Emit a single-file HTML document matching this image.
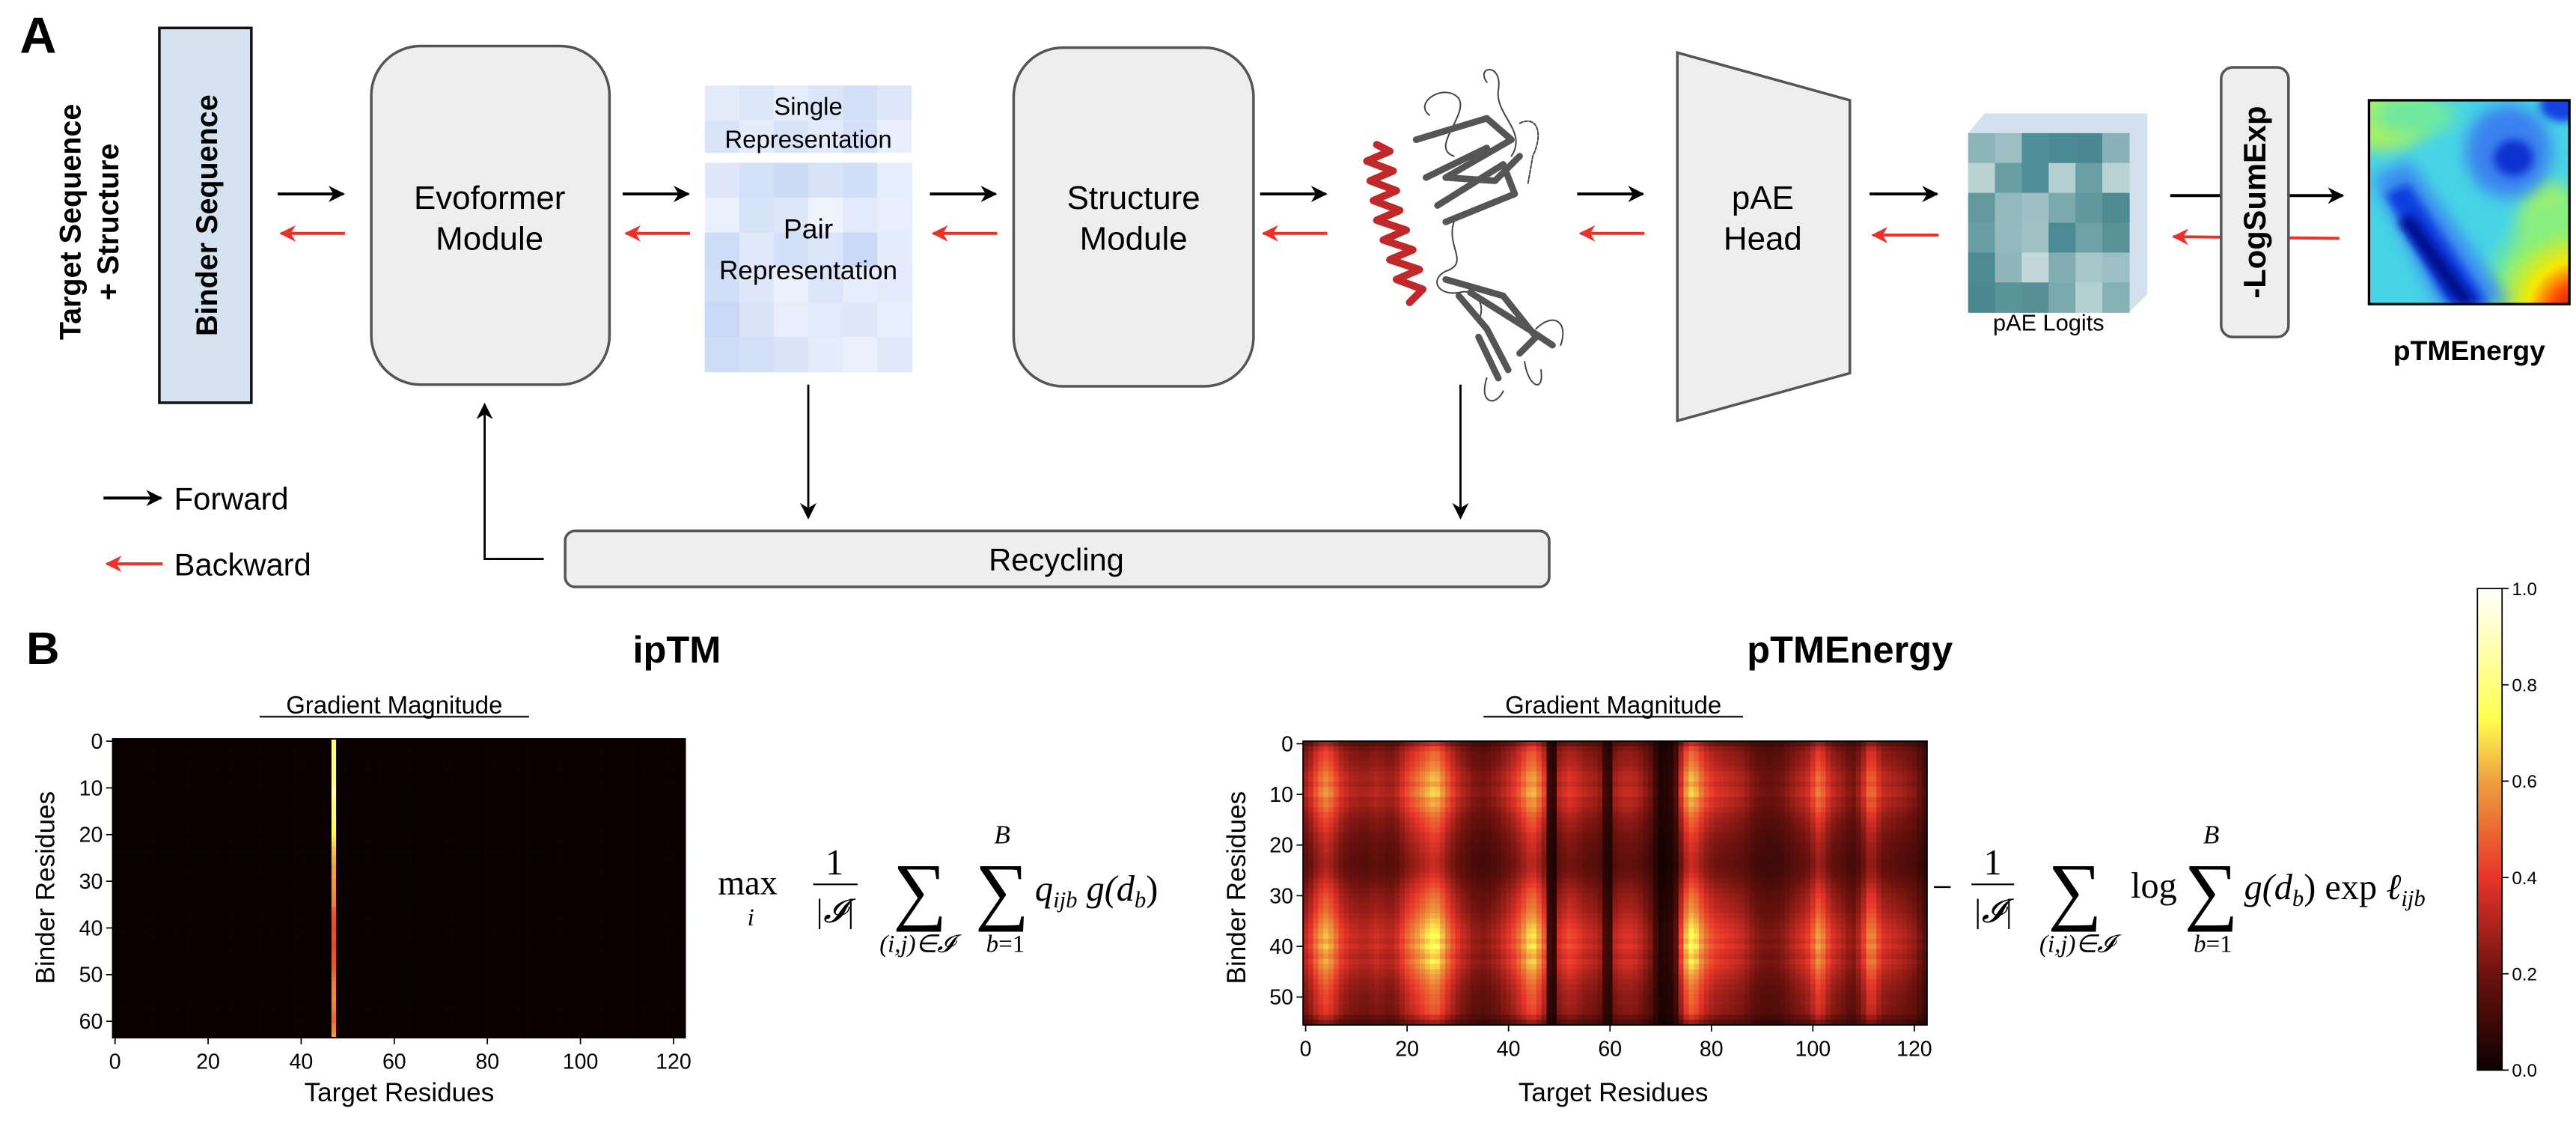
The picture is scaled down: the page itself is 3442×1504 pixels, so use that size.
<!DOCTYPE html>
<html><head><meta charset="utf-8"><style>
html,body{margin:0;padding:0;background:#fff;}
svg{display:block;}
text{font-family:"Liberation Sans",sans-serif;}
g.serif text{font-family:"Liberation Serif",serif;}
</style></head>
<body>
<svg id="fig" xmlns="http://www.w3.org/2000/svg" width="3442" height="1504" viewBox="0 0 1568 685" preserveAspectRatio="none">
<defs>
<marker id="ah" markerWidth="12" markerHeight="12" refX="9" refY="5" orient="auto" markerUnits="userSpaceOnUse"><path d="M0,0 L10,5 L0,10 L3,5 z" fill="#000"/></marker>
<marker id="ahr" markerWidth="12" markerHeight="12" refX="9" refY="5" orient="auto" markerUnits="userSpaceOnUse"><path d="M0,0 L10,5 L0,10 L3,5 z" fill="#e8322a"/></marker>
<filter id="bl" x="-50%" y="-50%" width="200%" height="200%"><feGaussianBlur stdDeviation="5"/></filter>
<filter id="bl2" x="-50%" y="-50%" width="200%" height="200%"><feGaussianBlur stdDeviation="2.5"/></filter>
<clipPath id="ptmclip"><rect x="1442" y="61" width="122" height="124"/></clipPath>
<radialGradient id="hotcorner" cx="1570" cy="190" r="70" gradientUnits="userSpaceOnUse">
<stop offset="0" stop-color="#c00000"/><stop offset="0.25" stop-color="#ff5000"/><stop offset="0.45" stop-color="#f8e800"/><stop offset="0.7" stop-color="#90f070"/><stop offset="1" stop-color="#60e8b0" stop-opacity="0"/></radialGradient>
<linearGradient id="cbar" x1="0" y1="1" x2="0" y2="0">
<stop offset="0" stop-color="#0d0000"/><stop offset="0.2" stop-color="#6e120e"/><stop offset="0.4" stop-color="#e8352a"/><stop offset="0.5" stop-color="#ea6a32"/><stop offset="0.6" stop-color="#efa040"/><stop offset="0.73" stop-color="#ffff50"/><stop offset="1" stop-color="#ffffff"/></linearGradient>
</defs>

<!-- PANEL A -->
<text x="12" y="32" font-size="31" font-weight="bold">A</text>
<text transform="translate(49,135) rotate(-90)" text-anchor="middle" font-size="18" font-weight="bold">Target Sequence</text>
<text transform="translate(72,135) rotate(-90)" text-anchor="middle" font-size="18" font-weight="bold">+ Structure</text>
<rect x="97" y="17" width="56" height="228" fill="#d6e2f0" stroke="#111" stroke-width="1.6"/>
<text transform="translate(132,131) rotate(-90)" text-anchor="middle" font-size="18" font-weight="bold">Binder Sequence</text>

<g stroke-width="1.8" fill="none">
<line x1="169" y1="118" x2="209" y2="118" stroke="#000" marker-end="url(#ah)"/>
<line x1="210" y1="142" x2="171" y2="142" stroke="#e8322a" marker-end="url(#ahr)"/>
<line x1="379" y1="118" x2="419" y2="118" stroke="#000" marker-end="url(#ah)"/>
<line x1="420" y1="142" x2="381" y2="142" stroke="#e8322a" marker-end="url(#ahr)"/>
<line x1="566" y1="118" x2="606" y2="118" stroke="#000" marker-end="url(#ah)"/>
<line x1="607" y1="142" x2="568" y2="142" stroke="#e8322a" marker-end="url(#ahr)"/>
<line x1="767" y1="118" x2="807" y2="118" stroke="#000" marker-end="url(#ah)"/>
<line x1="808" y1="142" x2="769" y2="142" stroke="#e8322a" marker-end="url(#ahr)"/>
<line x1="960" y1="118" x2="1000" y2="118" stroke="#000" marker-end="url(#ah)"/>
<line x1="1001" y1="142" x2="962" y2="142" stroke="#e8322a" marker-end="url(#ahr)"/>
<line x1="1138" y1="118" x2="1179" y2="118" stroke="#000" marker-end="url(#ah)"/>
<line x1="1180" y1="143" x2="1140" y2="143" stroke="#e8322a" marker-end="url(#ahr)"/>
<line x1="1321" y1="119" x2="1426" y2="119" stroke="#000" marker-end="url(#ah)"/>
<line x1="1424" y1="145" x2="1323" y2="144" stroke="#e8322a" marker-end="url(#ahr)"/>
<line x1="492" y1="234" x2="492" y2="315" stroke="#000" stroke-width="1.3" marker-end="url(#ah)"/>
<line x1="889" y1="234" x2="889" y2="315" stroke="#000" stroke-width="1.3" marker-end="url(#ah)"/>
<polyline points="331,340 295,340 295,246" stroke="#000" stroke-width="1.3" marker-end="url(#ah)"/>
</g>

<rect x="226" y="28" width="145" height="206" rx="30" fill="#eeeeee" stroke="#555" stroke-width="1.6"/>
<text x="298" y="127" text-anchor="middle" font-size="20">Evoformer</text>
<text x="298" y="152" text-anchor="middle" font-size="20">Module</text>

<g>
<rect x="429" y="52" width="21" height="21" fill="#e3ebfb"/><rect x="450" y="52" width="21" height="21" fill="#dde7fa"/><rect x="471" y="52" width="21" height="21" fill="#e6edfb"/><rect x="492" y="52" width="21" height="21" fill="#dbe5f9"/><rect x="513" y="52" width="21" height="21" fill="#d3e0f8"/><rect x="534" y="52" width="21" height="21" fill="#dde6fa"/>
<rect x="429" y="73" width="21" height="20" fill="#dae4f8"/><rect x="450" y="73" width="21" height="20" fill="#e5ecfb"/><rect x="471" y="73" width="21" height="20" fill="#d8e3f8"/><rect x="492" y="73" width="21" height="20" fill="#e2eafb"/><rect x="513" y="73" width="21" height="20" fill="#d6e1f9"/><rect x="534" y="73" width="21" height="20" fill="#e8eefc"/>
</g>
<text x="492" y="70" text-anchor="middle" font-size="15">Single</text>
<text x="492" y="90" text-anchor="middle" font-size="15">Representation</text>
<g id="pairrep"></g>
<text x="492" y="145" text-anchor="middle" font-size="17">Pair</text>
<text x="492" y="170" text-anchor="middle" font-size="16">Representation</text>

<rect x="617" y="29" width="146" height="206" rx="30" fill="#eeeeee" stroke="#555" stroke-width="1.6"/>
<text x="690" y="127" text-anchor="middle" font-size="20">Structure</text>
<text x="690" y="152" text-anchor="middle" font-size="20">Module</text>

<g fill="none" stroke-linecap="round" stroke-linejoin="round">
<path d="M870,70 C860,62 880,50 888,60 C894,70 870,90 885,95 M905,50 C898,40 915,38 912,55 C910,70 930,80 920,95" stroke="#444" stroke-width="0.9"/>
<path d="M862,85 L905,72 L920,85 L880,108 L910,110 L925,95 M868,108 L905,90 M875,125 L915,100 L922,118 L880,135" stroke="#555" stroke-width="4"/>
<path d="M925,75 C935,70 940,80 933,95 L930,112" stroke="#444" stroke-width="0.9" stroke-dasharray="2,1"/>
<path d="M885,135 C880,150 895,160 880,165 C870,170 875,180 888,178 C898,175 905,185 900,195" stroke="#444" stroke-width="0.9"/>
<path d="M880,170 L915,180 L935,205 L925,215 M888,180 L905,200 L918,225 M895,178 L930,200 L945,210 M900,205 L912,230" stroke="#555" stroke-width="4"/>
<path d="M935,200 C945,190 955,195 950,210 M905,230 C900,245 910,248 915,238 M928,220 C930,235 940,240 938,225" stroke="#444" stroke-width="0.9"/>
<path d="M838,88 L846,92 L832,98 L848,104 L834,110 L850,116 L836,122 L852,128 L838,134 L856,140 L842,146 L860,152 L846,158 L864,164 L850,170 L866,176 L858,184" stroke="#c0282a" stroke-width="4.5"/>
</g>

<polygon points="1021,32 1126,61 1126,227 1021,256" fill="#eeeeee" stroke="#555" stroke-width="1.6"/>
<text x="1073" y="127" text-anchor="middle" font-size="20">pAE</text>
<text x="1073" y="152" text-anchor="middle" font-size="20">Head</text>

<polygon points="1198,81 1208,69 1307,69 1307,179 1296,190 1198,190" fill="#d4e0ee"/>
<g id="paegrid"></g>
<text x="1247" y="201" text-anchor="middle" font-size="14">pAE Logits</text>

<rect x="1352" y="41" width="41" height="164" rx="7" fill="#eeeeee" stroke="#555" stroke-width="1.6"/>
<text transform="translate(1379,123) rotate(-90)" text-anchor="middle" font-size="19" font-weight="bold">-LogSumExp</text>

<g clip-path="url(#ptmclip)">
<rect x="1442" y="61" width="122" height="124" fill="#48d4e6"/>
<ellipse cx="1450" cy="68" rx="30" ry="24" fill="#a8f060" filter="url(#bl)"/>
<ellipse cx="1470" cy="70" rx="25" ry="12" fill="#70e8a0" filter="url(#bl)"/>
<ellipse cx="1552" cy="140" rx="20" ry="30" fill="#98f070" filter="url(#bl)"/>
<rect x="1442" y="61" width="122" height="124" fill="url(#hotcorner)"/>
<polygon points="1444,108 1466,98 1528,185 1484,185" fill="#3a88f0" filter="url(#bl)"/>
<polygon points="1452,118 1466,112 1515,185 1490,185" fill="#1040e0" filter="url(#bl2)"/>
<polygon points="1460,135 1468,130 1508,185 1496,185" fill="#000a90" filter="url(#bl2)"/>
<ellipse cx="1527" cy="92" rx="26" ry="28" fill="#3a80f0" filter="url(#bl)"/>
<ellipse cx="1530" cy="96" rx="12" ry="11" fill="#0a30d0" filter="url(#bl2)"/>
<ellipse cx="1560" cy="64" rx="14" ry="10" fill="#1840e0" filter="url(#bl2)"/>
</g>
<rect x="1442" y="61" width="122" height="124" fill="none" stroke="#000" stroke-width="1.5"/>
<text x="1503" y="219" text-anchor="middle" font-size="17" font-weight="bold">pTMEnergy</text>

<rect x="344" y="323" width="599" height="34" rx="6" fill="#eeeeee" stroke="#555" stroke-width="1.6"/>
<text x="643" y="347" text-anchor="middle" font-size="19">Recycling</text>

<g>
<line x1="63" y1="303" x2="98" y2="303" stroke="#000" stroke-width="1.8" marker-end="url(#ah)"/>
<text x="106" y="310" font-size="19">Forward</text>
<line x1="99" y1="343" x2="65" y2="343" stroke="#e8322a" stroke-width="1.8" marker-end="url(#ahr)"/>
<text x="106" y="350" font-size="19">Backward</text>
</g>

<!-- PANEL B -->
<text x="16" y="404" font-size="28" font-weight="bold">B</text>
<text x="412" y="403" text-anchor="middle" font-size="23" font-weight="bold">ipTM</text>
<text x="1126" y="403" text-anchor="middle" font-size="23" font-weight="bold">pTMEnergy</text>
<text x="240" y="434" text-anchor="middle" font-size="15">Gradient Magnitude</text>
<line x1="158" y1="436" x2="322" y2="436" stroke="#000" stroke-width="1"/>
<text x="982" y="434" text-anchor="middle" font-size="15">Gradient Magnitude</text>
<line x1="903" y1="436" x2="1061" y2="436" stroke="#000" stroke-width="1"/>

<g id="iptm-chart"></g>
<g id="ptm-chart"></g>

<text x="243" y="670" text-anchor="middle" font-size="16">Target Residues</text>
<text transform="translate(33,540) rotate(-90)" text-anchor="middle" font-size="16">Binder Residues</text>
<text x="982" y="670" text-anchor="middle" font-size="16">Target Residues</text>
<text transform="translate(758,540) rotate(-90)" text-anchor="middle" font-size="16">Binder Residues</text>

<!-- formula ipTM -->
<g class="serif">
<text x="437" y="544" font-size="21">max</text>
<text x="457" y="563" font-size="15" font-style="italic" text-anchor="middle">i</text>
<text x="508" y="532" font-size="22" text-anchor="middle">1</text>
<line x1="495" y1="538" x2="522" y2="538" stroke="#000" stroke-width="1"/>
<text x="508" y="561" font-size="20" font-style="italic" text-anchor="middle">|𝓘|</text>
<text x="560" y="557" font-size="46" text-anchor="middle">∑</text>
<text x="610" y="557" font-size="46" text-anchor="middle">∑</text>
<text x="610" y="513" font-size="16" font-style="italic" text-anchor="middle">B</text>
<text x="558" y="579" font-size="15" font-style="italic" text-anchor="middle">(i,j)∈𝓘</text>
<text x="612" y="579" font-size="15" text-anchor="middle"><tspan font-style="italic">b</tspan>=1</text>
<text x="630" y="548" font-size="22" font-style="italic">q<tspan font-size="14" dy="4">ijb</tspan><tspan dy="-4"> g(d</tspan><tspan font-size="14" dy="4">b</tspan><tspan dy="-4" font-style="normal">)</tspan></text>
</g>

<!-- formula pTMEnergy -->
<g class="serif">
<text x="1176" y="547" font-size="22">−</text>
<text x="1213" y="532" font-size="22" text-anchor="middle">1</text>
<line x1="1200" y1="538" x2="1226" y2="538" stroke="#000" stroke-width="1"/>
<text x="1213" y="561" font-size="20" font-style="italic" text-anchor="middle">|𝓘|</text>
<text x="1263" y="557" font-size="46" text-anchor="middle">∑</text>
<text x="1264" y="579" font-size="15" font-style="italic" text-anchor="middle">(i,j)∈𝓘</text>
<text x="1297" y="546" font-size="22">log</text>
<text x="1346" y="557" font-size="46" text-anchor="middle">∑</text>
<text x="1346" y="513" font-size="16" font-style="italic" text-anchor="middle">B</text>
<text x="1347" y="579" font-size="15" text-anchor="middle"><tspan font-style="italic">b</tspan>=1</text>
<text x="1366" y="547" font-size="22" font-style="italic">g(d<tspan font-size="14" dy="4">b</tspan><tspan dy="-4" font-style="normal">) exp </tspan>ℓ<tspan font-size="14" dy="4">ijb</tspan></text>
</g>

<!-- colorbar -->
<g id="cbar-g">
<rect x="1508" y="358" width="15" height="293" fill="url(#cbar)" stroke="#000" stroke-width="0.8"/>
</g>
</svg>

<script>
// ===== Chart data =====
var cbTicks = [0.0, 0.2, 0.4, 0.6, 0.8, 1.0];
var xTicks = [0, 20, 40, 60, 80, 100, 120];
var iptmYTicks = [0, 10, 20, 30, 40, 50, 60];
var ptmYTicks = [0, 10, 20, 30, 40, 50];
var nTarget = 123;
var iptmBinderRows = 64;
var ptmBinderRows = 56;
var iptmColumn = 47;
var iptmColumnValues = [0.78,0.8,0.82,0.8,0.8,0.82,0.8,0.78,0.8,0.82,0.85,0.9,0.82,0.8,0.78,0.8,0.78,0.76,0.75,0.74,0.72,0.7,0.68,0.65,0.64,0.62,0.62,0.6,0.6,0.6,0.58,0.58,0.57,0.56,0.55,0.54,0.48,0.46,0.45,0.45,0.44,0.44,0.45,0.44,0.44,0.45,0.46,0.46,0.46,0.48,0.5,0.52,0.54,0.55,0.55,0.56,0.55,0.54,0.52,0.5,0.5,0.54,0.56,0.6];
var iptmBackground = 0.0;
var ptmScale = 0.64;
var ptmColProfile = [0.42,0.5,0.62,0.72,0.78,0.72,0.62,0.52,0.47,0.43,0.42,0.4,0.4,0.42,0.44,0.42,0.4,0.4,0.44,0.52,0.6,0.66,0.72,0.78,0.84,0.9,0.88,0.78,0.66,0.56,0.48,0.42,0.38,0.33,0.32,0.3,0.32,0.35,0.38,0.43,0.48,0.54,0.62,0.72,0.82,0.84,0.74,0.58,0.15,0.1,0.45,0.5,0.54,0.52,0.48,0.44,0.42,0.4,0.36,0.15,0.12,0.4,0.44,0.46,0.46,0.44,0.4,0.34,0.28,0.15,0.06,0.08,0.1,0.2,0.52,0.78,0.9,0.84,0.72,0.62,0.56,0.52,0.5,0.48,0.46,0.44,0.42,0.38,0.33,0.3,0.28,0.27,0.27,0.28,0.3,0.34,0.38,0.42,0.45,0.5,0.6,0.72,0.66,0.54,0.46,0.42,0.38,0.33,0.31,0.38,0.5,0.66,0.66,0.54,0.46,0.44,0.42,0.4,0.38,0.35,0.32,0.26,0.2];
var ptmRowProfile = [0.6,0.78,0.88,0.9,0.95,1,1.08,1.12,1.05,1.15,1.18,1.05,1.08,1,0.92,0.86,0.82,0.78,0.72,0.7,0.66,0.65,0.62,0.6,0.6,0.62,0.66,0.72,0.78,0.84,0.9,0.94,0.98,1.02,1.08,1.14,1.2,1.25,1.3,1.22,1.32,1.22,1.15,1.25,1.18,1.1,1.04,0.98,0.93,0.9,0.86,0.86,0.82,0.8,0.65,0.5];
var pairShades = ["#dfe8fa","#d4e1f8","#ccdcf7","#d8e3f9","#d0def8","#e6edfb","#eaf0fc","#d6e2f8","#dde7fa","#eef3fd","#e2eafb","#e8eefc","#cddcf7","#e0e9fa","#d2e0f8","#dbe5f9","#cad9f6","#e4ebfb","#d0ddf7","#dfe8fa","#ebf1fc","#dbe5f9","#e6edfb","#e2eafb","#c9d8f6","#d9e4f9","#e8eefc","#e1e9fa","#dfe8fa","#e7eefc","#cfdcf7","#d4e0f8","#d9e4f9","#e4ebfb","#ebf1fc","#e0e8fa"];
var paeShades = ["#8cb5b9","#9bbfc2","#4f8f97","#4a8a92","#4b8891","#88b2b7","#b9d3d5","#6a9ea5","#4f8f97","#b3cfd2","#6a9fa6","#b9d3d5","#64999f","#92b9bd","#9cc0c3","#7aa9ae","#61979e","#4e8a92","#6a9ea5","#94babe","#9fc1c4","#4c8b93","#6fa1a8","#599299","#4d8b93","#8fb7bb","#c2d8da","#82aeb3","#a6c6c9","#9bbfc2","#4c8891","#5a939a","#588f97","#7aa9ae","#b4d0d2","#86b2b6"];

var NS = "http://www.w3.org/2000/svg";
function mk(tag, attrs, parent){ var e=document.createElementNS(NS,tag); for(var k in attrs) e.setAttribute(k, attrs[k]); parent.appendChild(e); return e; }

var cmStops=[[0,[10,0,0]],[0.2,[110,18,14]],[0.4,[232,53,42]],[0.5,[234,106,50]],[0.6,[239,160,64]],[0.73,[255,255,80]],[1,[255,255,255]]];
function cmap(v){ v=Math.max(0,Math.min(1,v)); for(var i=1;i<cmStops.length;i++){ if(v<=cmStops[i][0]){ var a=cmStops[i-1],b=cmStops[i],t=(v-a[0])/(b[0]-a[0]); return "rgb("+[0,1,2].map(function(k){return Math.round(a[1][k]+(b[1][k]-a[1][k])*t);}).join(",")+")"; } } return "rgb(255,255,255)"; }

(function(){
  var g=document.getElementById('pairrep'); var cw=21, ch=21.2;
  for(var i=0;i<36;i++){ var r=Math.floor(i/6), c=i%6;
    var e=mk('rect',{x:429+c*cw,y:99+r*ch,width:cw+0.3,height:ch+0.3,fill:pairShades[i]},g);
    
     }
  var p=document.getElementById('paegrid'); var pw=98/6, ph=109/6;
  for(var j=0;j<36;j++){ var rr=Math.floor(j/6), cc=j%6;
    var f=mk('rect',{x:1198+cc*pw,y:81+rr*ph,width:pw+0.3,height:ph+0.3,fill:paeShades[j]},p);
    
     }
})();

function heatmap(gid, left, colStep, top, rowStep, nRows, valueFn, yTicks, prefix){
  var g=document.getElementById(gid);
  function xPos(c){ return left + (c+0.5)*colStep; }
  function yPos(r){ return top + (r+0.5)*rowStep; }
  for(var r=0;r<nRows;r++){ for(var c=0;c<nTarget;c++){
    var cell=mk('rect',{x:(left+c*colStep).toFixed(2),y:(top+r*rowStep).toFixed(2),width:(colStep+0.15).toFixed(2),height:(rowStep+0.15).toFixed(2),fill:cmap(valueFn(r,c))},g);
    
    
  } }
  var W=nTarget*colStep, H=nRows*rowStep;
  var fr=mk('rect',{x:left,y:top,width:W,height:H,fill:'none',stroke:'#000','stroke-width':0.9},g);
  
  
  xTicks.forEach(function(t){ var x=xPos(t);
    mk('line',{x1:x,y1:top+H,x2:x,y2:top+H+4,stroke:'#000','stroke-width':0.8},g);
    var tx=mk('text',{x:x,y:top+H+19,'text-anchor':'middle','font-size':13},g); tx.textContent=t;
    
     });
  yTicks.forEach(function(t){ var y=yPos(t);
    mk('line',{x1:left-4,y1:y,x2:left,y2:y,stroke:'#000','stroke-width':0.8},g);
    var ty=mk('text',{x:left-6,y:y+4.5,'text-anchor':'end','font-size':13},g); ty.textContent=t;
    
     });
}

heatmap('iptm-chart', 68.6, 2.833, 449.5, 2.84, iptmBinderRows,
  function(r,c){ return c===iptmColumn ? iptmColumnValues[r] : iptmBackground; }, iptmYTicks, 'iptm');
heatmap('ptm-chart', 793.2, 3.0875, 450.9, 3.082, ptmBinderRows,
  function(r,c){ return ptmScale*ptmColProfile[c]*ptmRowProfile[r]; }, ptmYTicks, 'ptm');

(function(){
  var g=document.getElementById('cbar-g'); var y0=651, y1=358;
  cbTicks.forEach(function(v){ var y=y0-(y0-y1)*v;
    mk('line',{x1:1523,y1:y,x2:1527,y2:y,stroke:'#000','stroke-width':0.8},g);
    var t=mk('text',{x:1529,y:y+4,'font-size':11},g); t.textContent=v.toFixed(1);
    
     });
})();
</script>
</body></html>
